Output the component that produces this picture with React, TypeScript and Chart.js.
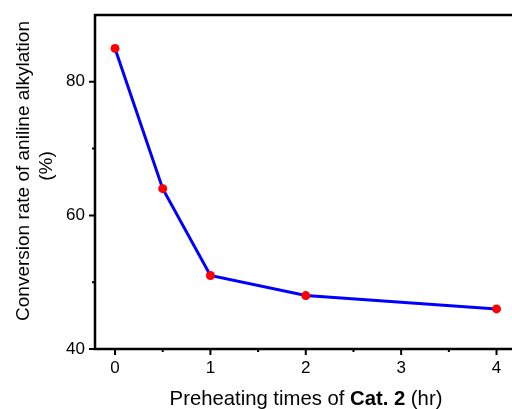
import React, { useEffect, useRef } from "react";
import { Chart, registerables } from "chart.js";

Chart.register(...registerables);

const timesHr = [0, 0.5, 1, 2, 4];
const conversion = [85, 64, 51, 48, 46];
const xMajorTicks = [0, 1, 2, 3, 4];
const xMinorTicks = [0.5, 1.5, 2.5, 3.5];
const yMajorTicks = [40, 60, 80];
const yMinorTicks = [50, 70];

const FONT = "'Liberation Sans', Arial, sans-serif";

const framePlugin = {
  id: "frame",
  afterDraw(chart: any) {
    const { ctx, chartArea, scales } = chart;
    const x = scales.x;
    const y = scales.y;
    const L = chartArea.left;
    const R = chart.width;
    const T = chartArea.top;
    const B = chartArea.bottom;
    ctx.save();
    ctx.strokeStyle = "#000";
    ctx.lineCap = "butt";
    ctx.lineWidth = 2.5;
    ctx.beginPath();
    ctx.moveTo(L - 1.25, T);
    ctx.lineTo(R, T);
    ctx.moveTo(L, T);
    ctx.lineTo(L, B + 1.25);
    ctx.moveTo(L - 1.25, B);
    ctx.lineTo(R, B);
    ctx.stroke();
    ctx.lineWidth = 2;
    ctx.beginPath();
    xMajorTicks.forEach((v) => {
      const px = x.getPixelForValue(v);
      ctx.moveTo(px, B);
      ctx.lineTo(px, B + 6);
    });
    xMinorTicks.forEach((v) => {
      const px = x.getPixelForValue(v);
      ctx.moveTo(px, B);
      ctx.lineTo(px, B + 3);
    });
    yMajorTicks.forEach((v) => {
      const py = y.getPixelForValue(v);
      ctx.moveTo(L, py);
      ctx.lineTo(L - 6, py);
    });
    yMinorTicks.forEach((v) => {
      const py = y.getPixelForValue(v);
      ctx.moveTo(L, py);
      ctx.lineTo(L - 3, py);
    });
    ctx.stroke();

    // x title with bold part
    ctx.fillStyle = "#000";
    ctx.textBaseline = "alphabetic";
    ctx.textAlign = "left";
    const parts = [
      { t: "Preheating times of ", f: `20.3px ${FONT}` },
      { t: "Cat. 2", f: `bold 20.3px ${FONT}` },
      { t: " (hr)", f: `20.3px ${FONT}` },
    ];
    let total = 0;
    parts.forEach((p) => {
      ctx.font = p.f;
      total += ctx.measureText(p.t).width;
    });
    let cx = 306 - total / 2;
    parts.forEach((p) => {
      ctx.font = p.f;
      ctx.fillText(p.t, cx, 405);
      cx += ctx.measureText(p.t).width;
    });

    // y title
    ctx.font = `19px ${FONT}`;
    ctx.textAlign = "center";
    ctx.save();
    ctx.translate(29, 171);
    ctx.rotate(-Math.PI / 2);
    ctx.fillText("Conversion rate of aniline alkylation", 0, 0);
    ctx.restore();
    ctx.save();
    ctx.translate(52, 166);
    ctx.rotate(-Math.PI / 2);
    ctx.fillText("(%)", 0, 0);
    ctx.restore();
    ctx.restore();
  },
};

export default function App() {
  const ref = useRef<HTMLCanvasElement>(null);
  useEffect(() => {
    if (!ref.current) return;
    const chart = new Chart(ref.current, {
      type: "line",
      data: {
        datasets: [
          {
            data: timesHr.map((t, i) => ({ x: t, y: conversion[i] })),
            borderColor: "#0000ff",
            borderWidth: 3,
            pointBackgroundColor: "#ff0000",
            pointBorderColor: "#ff0000",
            pointRadius: 4.5,
            pointBorderWidth: 0,
            tension: 0,
          },
        ],
      },
      options: {
        animation: false,
        responsive: false,
        layout: { padding: { top: 15, right: 0, left: 0, bottom: 0 } },
        plugins: { legend: { display: false }, tooltip: { enabled: false } },
        scales: {
          x: {
            type: "linear",
            min: -0.21,
            max: 4.115,
            grid: { display: false, drawTicks: false },
            border: { display: false },
            afterBuildTicks: (s: any) => {
              s.ticks = xMajorTicks.map((v) => ({ value: v }));
            },
            afterFit: (s: any) => {
              s.height = 60;
            },
            ticks: {
              padding: 9,
              color: "#000",
              font: { family: FONT, size: 17 },
              maxRotation: 0,
            },
          },
          y: {
            min: 40,
            max: 90,
            grid: { display: false, drawTicks: false },
            border: { display: false },
            afterBuildTicks: (s: any) => {
              s.ticks = yMajorTicks.map((v) => ({ value: v }));
            },
            afterFit: (s: any) => {
              s.width = 95;
              s.paddingTop = 0;
              s.paddingBottom = 0;
            },
            ticks: {
              padding: 10,
              color: "#000",
              font: { family: FONT, size: 17 },
            },
          },
        },
      },
      plugins: [framePlugin],
    });
    return () => chart.destroy();
  }, []);
  return (
    <div style={{ position: "fixed", left: 0, top: 0, width: 512, height: 409, background: "#fff" }}>
      <canvas ref={ref} width={512} height={409} />
    </div>
  );
}
